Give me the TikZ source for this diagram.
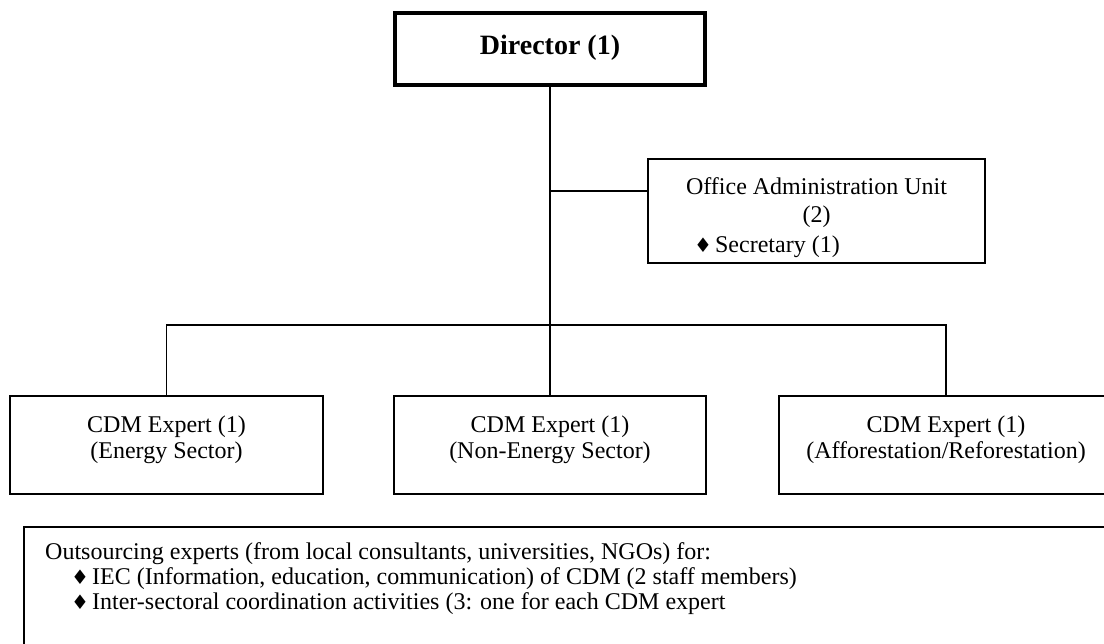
\documentclass[tikz,border=0pt]{standalone}
\usepackage{fontspec}
\setmainfont{Liberation Serif}
\newfontfamily\symfont{DejaVu Sans}
\newcommand{\dia}{{\symfont\fontsize{20}{20}\selectfont ♦}\hspace{3pt}}
\begin{document}
\begin{tikzpicture}[x=1pt,y=-1pt,
  box/.style={draw, line width=2.8pt, inner sep=0, minimum width=#1},
  conn/.style={line width=1.5pt},
  txt/.style={anchor=base, inner sep=0, font=\fontsize{24}{28}\selectfont},
  ltxt/.style={txt, anchor=base west}
]
\useasboundingbox (0,0) rectangle (1104,644);
\fill[white] (0,0) rectangle (1104,644);

% boxes
\node[box=310, line width=3.6pt, minimum height=72] (dir) at (550,49) {};
\node[box=337, minimum height=104] (off) at (816.5,211) {};
\node[box=313, minimum height=98] (e1) at (166.5,445) {};
\node[box=312, minimum height=98] (e2) at (550,445) {};
\node[box=334, minimum height=98] (e3) at (946,445) {};
\node[box=1081, line width=2.5pt, minimum height=138] (out) at (564.5,596) {};

% connectors
\coordinate (offj) at (550,191);
\coordinate (bus) at (550,325);
\draw[conn] (dir.south) -- (bus);
\draw[conn] (offj) -- (offj -| off.west);
\draw[conn] (e1.north) |- (bus) -| (e3.north);
\draw[conn] (bus) -- (e2.north);

% texts
\node[txt, font=\fontsize{28}{30}\selectfont\bfseries] (dirt) at (550,55) {Director (1)};

\begin{scope}
\clip (649.5,160.5) rectangle (983.5,261.5);
\node[txt] (offt1) at (816.5,195) {Office Administration Unit};
\node[txt] (offt2) at (816.5,223) {(2)};
\node[ltxt] (offt3) at (694,253) {\dia Secretary (1)};
\end{scope}

\node[txt] (e1a) at (166.5,432) {CDM Expert (1)};
\node[txt] (e1b) at (166.5,459) {(Energy Sector)};
\node[txt] (e2a) at (550,432) {CDM Expert (1)};
\node[txt] (e2b) at (550,459) {(Non-Energy Sector)};
\node[txt] (e3a) at (946,432) {CDM Expert (1)};
\node[txt] (e3b) at (946,459) {(Afforestation/Reforestation)};

\node[ltxt] (o1) at (45,559) {Outsourcing experts (from local consultants, universities, NGOs) for:};
\node[ltxt] (o2) at (71,584) {\dia IEC (Information, education, communication) of CDM (2 staff members)};
\node[ltxt] (o3) at (71,609) {\dia Inter-sectoral coordination activities (3: one for each CDM expert};
\end{tikzpicture}
\end{document}
